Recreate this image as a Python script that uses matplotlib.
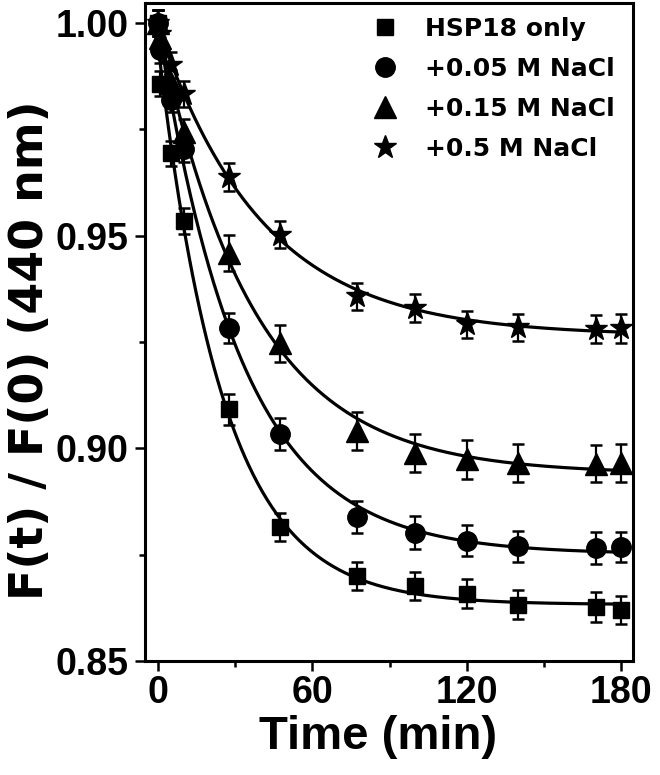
import numpy as np
import matplotlib
matplotlib.use('Agg')
import matplotlib.pyplot as plt

# data
time_min = [0, 1, 5, 10, 27.5, 47.5, 77.5, 100, 120, 140, 170, 180]

hsp18_only = [1.000, 0.9858, 0.9694, 0.9535, 0.9092, 0.8815, 0.8700, 0.8676, 0.8658, 0.8632, 0.8627, 0.8620]
nacl_005 = [1.000, 0.9937, 0.9820, 0.9703, 0.9283, 0.9034, 0.8839, 0.8802, 0.8783, 0.8770, 0.8766, 0.8768]
nacl_015 = [1.000, 0.9965, 0.9860, 0.9745, 0.9460, 0.9247, 0.9041, 0.8990, 0.8974, 0.8966, 0.8964, 0.8966]
nacl_05 = [1.000, 0.9975, 0.9901, 0.9833, 0.9638, 0.9503, 0.9358, 0.9331, 0.9292, 0.9285, 0.9280, 0.9282]

err_hsp18 = [0.003, 0.003, 0.003, 0.003, 0.0037, 0.0033, 0.0033, 0.0033, 0.0034, 0.0034, 0.0035, 0.0034]
err_005 = [0.003, 0.003, 0.003, 0.003, 0.0035, 0.0037, 0.0037, 0.0038, 0.0037, 0.0037, 0.0037, 0.0036]
err_015 = [0.003, 0.003, 0.003, 0.003, 0.0042, 0.0043, 0.0045, 0.0045, 0.0045, 0.0044, 0.0044, 0.0044]
err_05 = [0.003, 0.003, 0.003, 0.003, 0.0033, 0.0031, 0.0032, 0.0033, 0.0032, 0.0032, 0.0033, 0.0033]

labels = ['HSP18 only', '+0.05 M NaCl', '+0.15 M NaCl', '+0.5 M NaCl']
markers = ['s', 'o', '^', '*']
msizes = [12, 14, 16, 17]


def exp_fit(t, y):
    '''
    single exponential y = a + b*exp(-t/tau), grid over tau, lstsq for a, b
    '''
    t = np.asarray(t, float)
    y = np.asarray(y, float)
    best = None
    for tau in np.linspace(2, 80, 781):
        A = np.column_stack([np.ones_like(t), np.exp(-t / tau)])
        coef = np.linalg.lstsq(A, y, rcond=None)[0]
        r = np.sum((A @ coef - y) ** 2)
        if best is None or r < best[0]:
            best = (r, tau, coef)
    return best[1], best[2]


fig = plt.figure(figsize=(6.6, 7.75), dpi=100)
ax = fig.add_axes([0.2197, 0.147, 0.7394, 0.8495])

series = [hsp18_only, nacl_005, nacl_015, nacl_05]
errs = [err_hsp18, err_005, err_015, err_05]
tt = np.linspace(0, 180, 400)

for y, e, lab, m, ms in zip(series, errs, labels, markers, msizes):
    ax.errorbar(time_min, y, yerr=e, fmt='none', ecolor='k', elinewidth=1.6,
                capsize=4.5, capthick=1.8, zorder=2)
    tau, (a, b) = exp_fit(time_min, y)
    ax.plot(tt, a + b * np.exp(-tt / tau), color='k', lw=2.3, zorder=3)
    ax.plot(time_min, y, ls='none', marker=m, ms=ms, color='k', zorder=4, label=lab)

ax.set_xlim(-5, 184.5)
ax.set_ylim(0.85, 1.0048)
ax.set_xticks([0, 60, 120, 180])
ax.set_xticks([30, 90, 150], minor=True)
ax.set_yticks([0.85, 0.90, 0.95, 1.00])
ax.set_yticks([0.875, 0.925, 0.975], minor=True)
ax.set_yticklabels(['0.85', '0.90', '0.95', '1.00'])

for s in ax.spines.values():
    s.set_linewidth(2.2)

ax.tick_params(which='major', direction='out', length=7, width=1.8, top=False, right=False)
ax.tick_params(which='minor', direction='out', length=4, width=1.8, top=False, right=False)
ax.tick_params(axis='y', which='major', labelsize=27, pad=5)
ax.tick_params(axis='x', which='major', labelsize=27, pad=3)
for lbl in ax.get_yticklabels() + ax.get_xticklabels():
    lbl.set_family('Liberation Sans')
    lbl.set_weight('bold')

ax.set_xlabel('Time (min)', fontsize=34, fontweight='bold', family='Liberation Sans')
ax.set_ylabel('F(t) / F(0) (440 nm)', fontsize=33, fontweight='bold', family='DejaVu Sans')
ax.xaxis.set_label_coords(0.477, -0.082)
ax.yaxis.set_label_coords(-0.1885, 0.472)

ax.legend(loc='upper left', bbox_to_anchor=(0.466, 0.979), frameon=False,
          prop={'family': 'DejaVu Sans', 'weight': 'bold', 'size': 18},
          handlelength=1.0, handletextpad=1.1, labelspacing=0.64,
          borderpad=0, borderaxespad=0, numpoints=1)

fig.savefig('out.png', dpi=100)
